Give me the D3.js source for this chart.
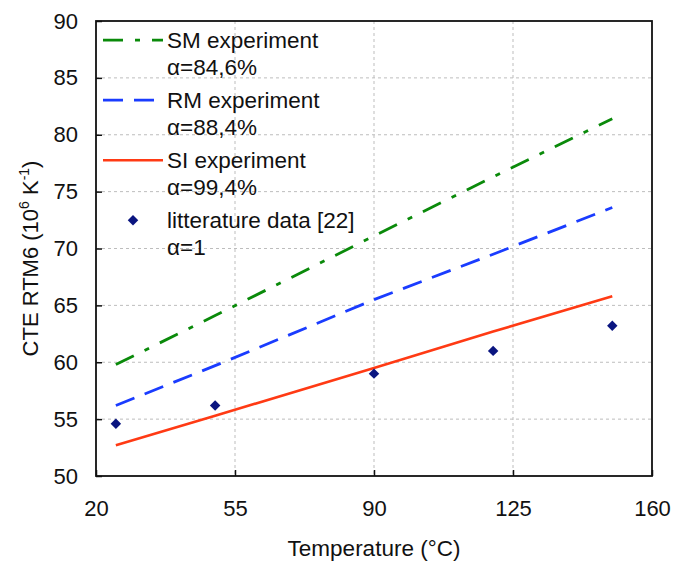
<!DOCTYPE html>
<html><head><meta charset="utf-8">
<script src="https://cdn.jsdelivr.net/npm/d3@7"></script>
<style>body{margin:0;background:#fff}svg{display:block}text{font-family:"Liberation Sans",Arial,sans-serif;fill:#111}</style>
</head><body><svg id="c" width="673" height="563"></svg>
<script>
const temps = [25, 50, 90, 120, 150];
const smValues = [59.8, 64.1, 71.1, 76.3, 81.4];
const rmValues = [56.2, 59.7, 65.5, 69.5, 73.6];
const siValues = [52.7, 55.3, 59.5, 62.7, 65.8];
const litValues = [54.6, 56.2, 59.0, 61.0, 63.2];
const xTicks = [20, 55, 90, 125, 160];
const yTicks = [50, 55, 60, 65, 70, 75, 80, 85, 90];
const seriesNames = ["SM experiment", "RM experiment", "SI experiment", "litterature data [22]"];
const alphaLabels = ["α=84,6%", "α=88,4%", "α=99,4%", "α=1"];

const svg = d3.select("#c");
const L = 96, R = 652, T = 21, B = 476;
const x = d3.scaleLinear().domain([20, 160]).range([L, R]);
const y = d3.scaleLinear().domain([50, 90]).range([B, T]);

// grid
svg.append("g").selectAll("line").data(xTicks.slice(1, -1)).join("line")
  .attr("x1", d => x(d)).attr("x2", d => x(d)).attr("y1", T).attr("y2", B)
  .attr("stroke", "#bdbdbd").attr("stroke-width", 1).attr("stroke-dasharray", "3,3");
svg.append("g").selectAll("line").data(yTicks.slice(1, -1)).join("line")
  .attr("y1", d => y(d)).attr("y2", d => y(d)).attr("x1", L).attr("x2", R)
  .attr("stroke", "#bdbdbd").attr("stroke-width", 1).attr("stroke-dasharray", "3,3");

// axes
const fs = 22;
const xAxis = svg.append("g").attr("transform", `translate(0,${B})`)
  .call(d3.axisBottom(x).tickValues(xTicks).tickSizeInner(-6).tickSizeOuter(0).tickPadding(24));
const yAxis = svg.append("g").attr("transform", `translate(${L},0)`)
  .call(d3.axisLeft(y).tickValues(yTicks).tickSizeInner(-6).tickSizeOuter(0).tickPadding(18));
[xAxis, yAxis].forEach(a => {
  a.select(".domain").remove();
  a.selectAll("line").attr("stroke", "#111").attr("stroke-width", 1.5);
  a.selectAll("text").attr("font-size", fs).attr("fill", "#111")
    .style("font-family", '"Liberation Sans",Arial,sans-serif');
});
svg.append("rect").attr("x", L).attr("y", T).attr("width", R - L).attr("height", B - T)
  .attr("fill", "none").attr("stroke", "#111").attr("stroke-width", 1.8);

// lines
const line = vals => d3.line().x((d, i) => x(temps[i])).y(d => y(d))(vals);
const styles = [
  {vals: smValues, color: "#0a8a0a", dash: "20,12,5,12", w: 2.8},
  {vals: rmValues, color: "#1a3cff", dash: "20,11", w: 2.8},
  {vals: siValues, color: "#ff3a14", dash: null, w: 2.6}
];
styles.forEach(s => {
  svg.append("path").attr("d", line(s.vals)).attr("fill", "none")
    .attr("stroke", s.color).attr("stroke-width", s.w)
    .attr("stroke-dasharray", s.dash);
});
const diamond = d3.symbol().type(d3.symbolDiamond2).size(70);
svg.append("g").selectAll("path").data(litValues).join("path")
  .attr("d", diamond).attr("fill", "#0a1580")
  .attr("transform", (d, i) => `translate(${x(temps[i])},${y(d)})`);

// legend
const lg = svg.append("g");
const base0 = 47.7, step = 60, lfs = 22.5;
styles.forEach((s, i) => {
  const yy = base0 + i * step - 7.5;
  lg.append("line").attr("x1", 103).attr("x2", 163).attr("y1", yy).attr("y2", yy)
    .attr("stroke", s.color).attr("stroke-width", s.w).attr("stroke-dasharray", s.dash);
});
lg.append("path").attr("d", diamond).attr("fill", "#0a1580")
  .attr("transform", `translate(133,${base0 + 3 * step - 7.5})`);
seriesNames.forEach((n, i) => {
  lg.append("text").attr("x", 167).attr("y", base0 + i * step).attr("font-size", lfs).text(n);
  lg.append("text").attr("x", 167).attr("y", base0 + i * step + 27.5).attr("font-size", lfs).text(alphaLabels[i]);
});

// axis titles
svg.append("text").attr("x", (L + R) / 2).attr("y", 556).attr("text-anchor", "middle")
  .attr("font-size", 22.5).text("Temperature (°C)");
const yt = svg.append("text").attr("transform", `translate(38,${(T + B) / 2 + 10}) rotate(-90)`)
  .attr("text-anchor", "middle").attr("font-size", 22);
yt.append("tspan").text("CTE RTM6 (10");
yt.append("tspan").attr("font-size", 14).attr("dy", -9).text("6");
yt.append("tspan").attr("dy", 9).text(" K");
yt.append("tspan").attr("font-size", 14).attr("dy", -9).text("-1");
yt.append("tspan").attr("dy", 9).text(")");
</script></body></html>
